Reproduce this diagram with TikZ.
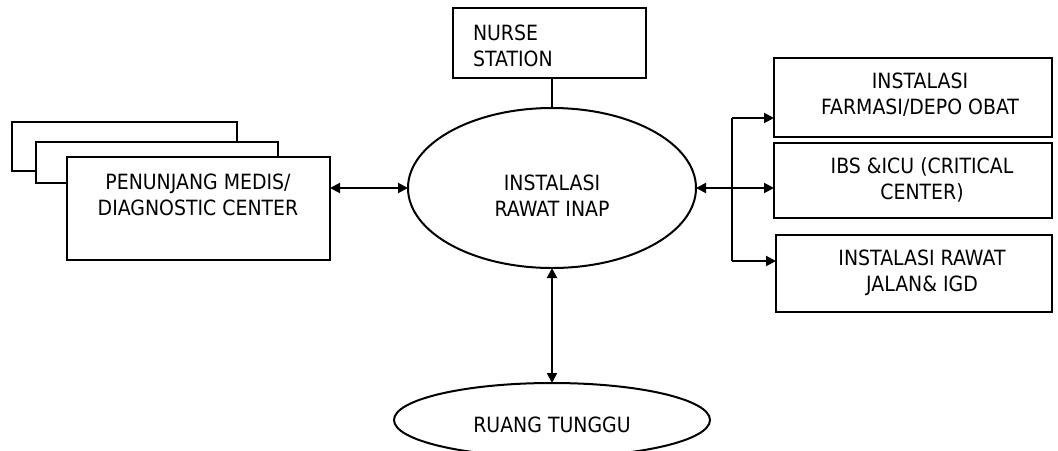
\documentclass[tikz,border=0pt]{standalone}
\usepackage{fontspec}
\setmainfont{DejaVu Sans}[FakeStretch=0.9]
\usetikzlibrary{arrows.meta,shapes.geometric}
\begin{document}
\begin{tikzpicture}[x=1pt,y=-1pt,
  every node/.style={inner sep=0pt, outer sep=0pt},
  box/.style={draw, line width=2pt, fill=white, rectangle},
  oval/.style={draw, line width=2pt, fill=white, ellipse},
  lbl/.style={font=\fontsize{21}{26}\selectfont, align=center},
  link/.style={line width=2pt},
  tip/.style={Triangle[length=10pt,width=10pt]},
  both/.style={link, {Triangle[length=10pt,width=10pt]}-{Triangle[length=10pt,width=10pt]}},
  to/.style={link, -{Triangle[length=10pt,width=10pt]}}]
\useasboundingbox (0,0) rectangle (1058,450);

% stacked boxes of the supporting services
\node[box, minimum width=225pt, minimum height=49pt] (pm1) at (124.5,146.5) {};
\node[box, minimum width=242pt, minimum height=41pt] (pm2) at (157,162.5) {};
\node[box, minimum width=263pt, minimum height=103pt] (pm3) at (198.5,208.5) {};
\node[lbl] (pmt) at (198,195) {PENUNJANG MEDIS/\\DIAGNOSTIC CENTER};

% nurse station
\node[box, minimum width=193pt, minimum height=70pt] (ns) at (549.5,43) {};
\node[lbl, align=left, anchor=west] (nst) at (473,45.5) {NURSE\\STATION};

% inpatient installation
\node[oval, minimum width=288pt, minimum height=160pt] (ri) at (552,188) {};
\node[lbl] (rit) at (552,196) {INSTALASI\\RAWAT INAP};

% units on the right
\node[box, minimum width=278pt, minimum height=79pt] (b1) at (913,97.5) {};
\node[lbl] (b1t) at (920,95) {INSTALASI\\FARMASI/DEPO OBAT};
\node[box, minimum width=278pt, minimum height=75pt] (b2) at (913,180.5) {};
\node[lbl] (b2t) at (922,180) {IBS \&ICU (CRITICAL\\CENTER)};
\node[box, minimum width=276pt, minimum height=77pt] (b3) at (914,273.5) {};
\node[lbl] (b3t) at (922,273) {INSTALASI RAWAT\\JALAN\& IGD};

% waiting room
\node[oval, minimum width=316pt, minimum height=74pt] (rt) at (552,420) {};
\node[lbl] (rtt) at (552,425) {RUANG TUNGGU};

% connectors
\coordinate (bt) at (732,118);
\coordinate (bb) at (732,261);
\draw[link] (ri.north |- ns.south) -- (ri.north);
\draw[both] (pm3.east |- ri.west) -- (ri.west);
\draw[both] (ri.east) -- (ri.east -| b2.west);
\draw[link] (bt) -- (bb);
\draw[to] (bt) -- (bt -| b1.west);
\draw[to] (bb) -- (bb -| b3.west);
\draw[both] (ri.south) -- (rt.north);
\end{tikzpicture}
\end{document}
